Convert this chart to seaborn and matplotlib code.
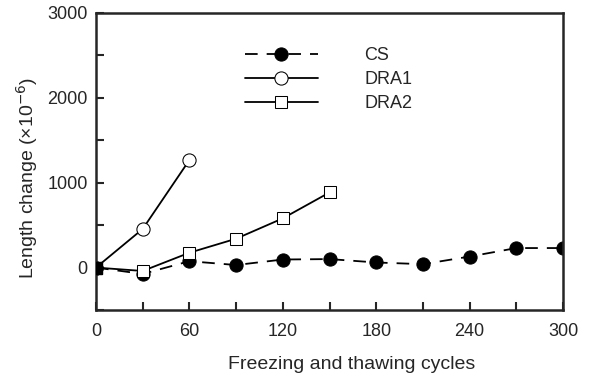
import matplotlib
matplotlib.use("Agg")
import matplotlib.pyplot as plt
import seaborn as sns
import numpy as np
from matplotlib.ticker import MultipleLocator

cs_x = [0, 30, 60, 90, 120, 150, 180, 210, 240, 270, 300]
cs_y = [0, -75, 75, 30, 95, 100, 60, 40, 130, 230, 230]
dra1_x = [0, 30, 60]
dra1_y = [0, 455, 1267]
dra2_x = [0, 30, 60, 90, 120, 150]
dra2_y = [0, -40, 175, 340, 580, 885]

sns.set_theme(style="ticks")
plt.rcParams['font.family'] = ['Liberation Sans', 'DejaVu Sans']

fig = plt.figure(figsize=(5.89, 3.79), dpi=100)
ax = fig.add_axes([0.163, 0.182, 0.793, 0.784])

sns.lineplot(x=cs_x, y=cs_y, ax=ax, color='black', lw=1.3, marker='o', markersize=9.5,
             markerfacecolor='black', markeredgecolor='black', label='CS')
ax.lines[-1].set_dashes([7, 5])
sns.lineplot(x=dra1_x, y=dra1_y, ax=ax, color='black', lw=1.3, marker='o', markersize=9.5,
             markerfacecolor='white', markeredgecolor='black', label='DRA1')
sns.lineplot(x=dra2_x, y=dra2_y, ax=ax, color='black', lw=1.3, marker='s', markersize=9,
             markerfacecolor='white', markeredgecolor='black', label='DRA2')
# filled origin square as in the reference
ax.plot([dra2_x[0]], [dra2_y[0]], marker='s', markersize=9, color='black', zorder=5)

ax.set_xlim(0, 300)
ax.set_ylim(-500, 3000)
ax.xaxis.set_major_locator(MultipleLocator(60))
ax.xaxis.set_minor_locator(MultipleLocator(30))
ax.yaxis.set_major_locator(MultipleLocator(1000))
ax.yaxis.set_minor_locator(MultipleLocator(500))
ax.tick_params(which='both', direction='in', width=1.5, labelsize=13, length=6)
ax.tick_params(axis='x', which='both', pad=9)
ax.tick_params(axis='y', which='both', pad=6)
for s in ax.spines.values():
    s.set_linewidth(1.8)
    s.set_visible(True)

ax.set_xlabel('Freezing and thawing cycles', fontsize=14)
ax.set_ylabel('Length change (×10$^{-6}$)', fontsize=14)
ax.xaxis.set_label_coords(0.548, -0.185)
ax.yaxis.set_label_coords(-0.148, 0.444)
ax.xaxis.label.set_verticalalignment('center')
ax.yaxis.label.set_verticalalignment('center')

leg = ax.legend(loc='upper left', bbox_to_anchor=(0.285, 0.94), frameon=False,
                handlelength=4.0, fontsize=13, labelspacing=0.4, handletextpad=2.6)

fig.savefig('out.png', dpi=100)
